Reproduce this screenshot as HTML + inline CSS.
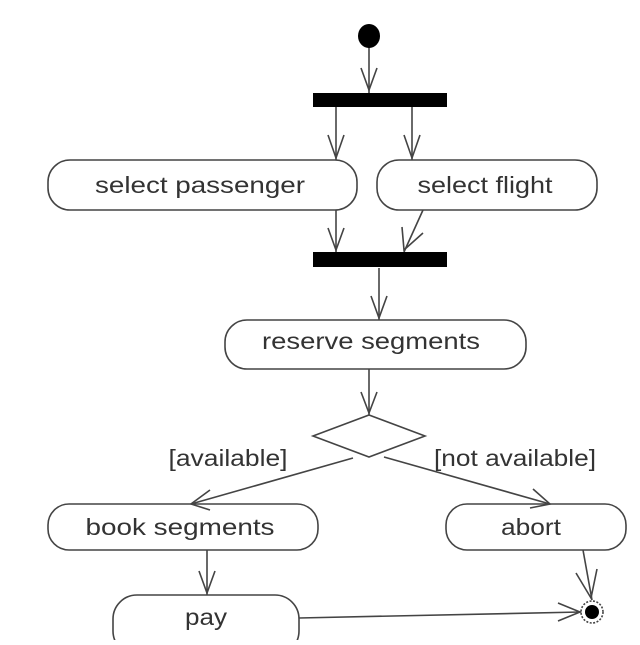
<!DOCTYPE html>
<html><head><meta charset="utf-8"><style>html,body{margin:0;padding:0;background:#fff}</style></head>
<body>
<svg width="640" height="640" viewBox="0 0 640 640" xmlns="http://www.w3.org/2000/svg" font-family="Liberation Sans, sans-serif" font-size="23" fill="#333">
<g stroke="#444" stroke-width="1.6" fill="none">
  <line x1="369" y1="45" x2="369" y2="93"/>
  <polyline points="361,68 369,90 377,68"/>
  <line x1="336" y1="107" x2="336" y2="160"/>
  <polyline points="328,135 336,158 344,135"/>
  <line x1="412" y1="107" x2="412" y2="160"/>
  <polyline points="404,135 412,158 420,135"/>
  <line x1="336" y1="210" x2="336" y2="252"/>
  <polyline points="328,228 336,250 344,228"/>
  <line x1="423" y1="210" x2="404" y2="252"/>
  <polyline points="402,227 404,250 423,233"/>
  <line x1="379" y1="268" x2="379" y2="320"/>
  <polyline points="371,296 379,318 387,296"/>
  <line x1="369" y1="369" x2="369" y2="415"/>
  <polyline points="361,392 369,413 377,392"/>
  <polygon points="369,415 425,436 369,457 313,436"/>
  <line x1="353" y1="458" x2="191" y2="504"/>
  <polyline points="210,490 191,504 210,510"/>
  <line x1="384" y1="457" x2="550" y2="504"/>
  <polyline points="533,489 550,504 530,508"/>
  <line x1="207" y1="550" x2="207" y2="595"/>
  <polyline points="199,571 207,593 215,571"/>
  <line x1="583" y1="550" x2="592" y2="600"/>
  <polyline points="576,573 591,598 597,569"/>
  <line x1="299" y1="618" x2="581" y2="612"/>
  <polyline points="558,603 580,612 558,621"/>
  <rect x="48" y="160" width="309" height="50" rx="22"/>
  <rect x="377" y="160" width="220" height="50" rx="22"/>
  <rect x="225" y="320" width="301" height="49" rx="22"/>
  <rect x="48" y="504" width="270" height="46" rx="21"/>
  <rect x="446" y="504" width="180" height="46" rx="21"/>
  <rect x="113" y="595" width="186" height="60" rx="24"/>
  <circle cx="592" cy="612" r="11" stroke-dasharray="2 1.5"/>
</g>
<ellipse cx="369" cy="36" rx="11" ry="12" fill="#000"/>
<rect x="313" y="93" width="134" height="14" fill="#000"/>
<rect x="313" y="252" width="134" height="15" fill="#000"/>
<circle cx="592" cy="612" r="7" fill="#000"/>
<g text-anchor="middle">
  <text x="200" y="193" textLength="210" lengthAdjust="spacingAndGlyphs">select passenger</text>
  <text x="485" y="193" textLength="135" lengthAdjust="spacingAndGlyphs">select flight</text>
  <text x="371" y="349" textLength="218" lengthAdjust="spacingAndGlyphs">reserve segments</text>
  <text x="228" y="466" textLength="119" lengthAdjust="spacingAndGlyphs">[available]</text>
  <text x="515" y="466" textLength="162" lengthAdjust="spacingAndGlyphs">[not available]</text>
  <text x="180" y="535" textLength="189" lengthAdjust="spacingAndGlyphs">book segments</text>
  <text x="531" y="535" textLength="60" lengthAdjust="spacingAndGlyphs">abort</text>
  <text x="206" y="625" textLength="42" lengthAdjust="spacingAndGlyphs">pay</text>
</g>
</svg>
</body></html>
